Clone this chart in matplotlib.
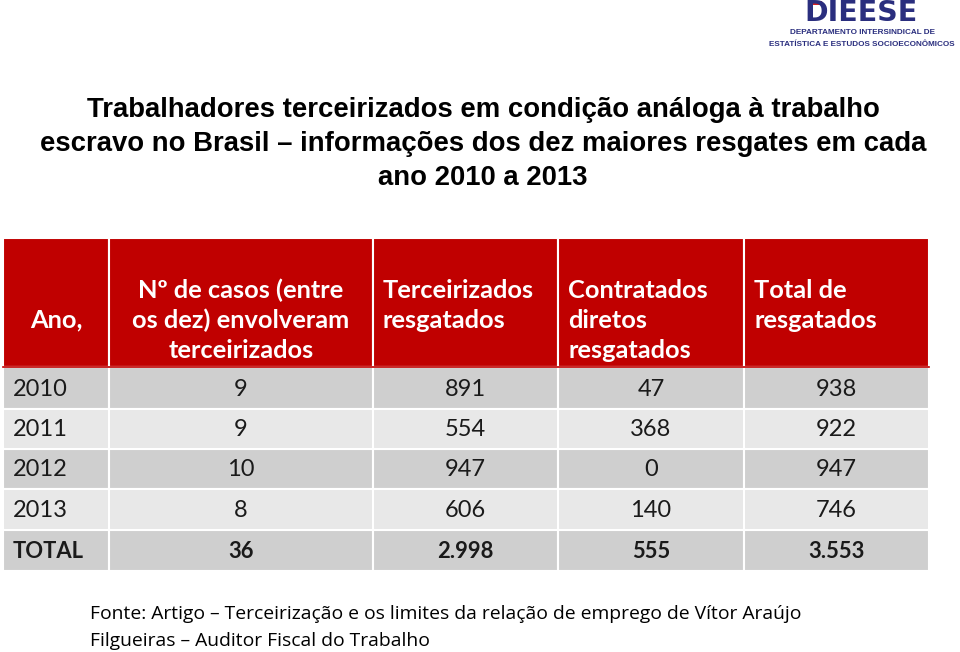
import matplotlib
matplotlib.use("Agg")
import matplotlib.pyplot as plt
from matplotlib.patches import Rectangle

# ---- data ----
title_lines = ["Trabalhadores terceirizados em condição análoga à trabalho",
               "escravo no Brasil – informações dos dez maiores resgates em cada",
               "ano 2010 a 2013"]
headers = ["Ano,",
           "Nº de casos (entre\nos dez) envolveram\nterceirizados",
           "Terceirizados\nresgatados",
           "Contratados\ndiretos\nresgatados",
           "Total de\nresgatados"]
years = ["2010", "2011", "2012", "2013"]
casos = ["9", "9", "10", "8"]
terceirizados = ["891", "554", "947", "606"]
diretos = ["47", "368", "0", "140"]
totais = ["938", "922", "947", "746"]
total_row = ["TOTAL", "36", "2.998", "555", "3.553"]
footer_lines = ["Fonte: Artigo – Terceirização e os limites da relação de emprego de Vítor Araújo",
                "Filgueiras – Auditor Fiscal do Trabalho"]

# ---- layout ----
W, H = 960, 652
fig = plt.figure(figsize=(W / 100, H / 100), dpi=100)
ax = fig.add_axes([0, 0, 1, 1])
ax.set_xlim(0, W)
ax.set_ylim(H, 0)
ax.axis("off")

RED = "#C00000"
DARK = "#CFCFCF"
LIGHT = "#E8E8E8"
TABLE_FONT = "Lato"

col_edges = [3, 109, 373, 558, 744, 929]
header_top, header_bot = 238, 367
row_edges = [367, 409, 449, 489, 530, 571]

# title
for i, line in enumerate(title_lines):
    ax.text(483, 110 + i * 34, line, ha="center", va="center",
            fontsize=19.8, fontweight="bold", family="Liberation Sans", color="black")

# header cells
header_align = ["center", "center", "left", "left", "left"]
for j, h in enumerate(headers):
    x0, x1 = col_edges[j], col_edges[j + 1]
    ax.add_patch(Rectangle((x0, header_top), x1 - x0, header_bot - header_top,
                           facecolor=RED, edgecolor="white", linewidth=1.5))
    if header_align[j] == "center":
        tx, ha = (x0 + x1) / 2, "center"
    else:
        tx, ha = x0 + 10, "left"
    lines = h.split("\n")
    if len(lines) == 1:
        ys = [320]
    else:
        ys = [290 + 30 * k for k in range(len(lines))]
    for line, ty in zip(lines, ys):
        ax.text(tx, ty, line, ha=ha, va="center",
                fontsize=18.3, fontweight="bold", family=TABLE_FONT, color="white")

# body rows
rows = list(zip(years, casos, terceirizados, diretos, totais)) + [tuple(total_row)]
for i, row in enumerate(rows):
    y0, y1 = row_edges[i], row_edges[i + 1]
    fc = DARK if i % 2 == 0 else LIGHT
    bold = (i == len(rows) - 1)
    for j, val in enumerate(row):
        x0, x1 = col_edges[j], col_edges[j + 1]
        ax.add_patch(Rectangle((x0, y0), x1 - x0, y1 - y0,
                               facecolor=fc, edgecolor="white", linewidth=1.5))
        if j == 0:
            tx, ha = x0 + 10, "left"
        else:
            tx, ha = (x0 + x1) / 2, "center"
        ax.text(tx, (y0 + y1) / 2 + 1, val, ha=ha, va="center",
                fontsize=15.8 if bold else 17, fontweight="bold" if bold else "normal",
                family=TABLE_FONT, color="#1a1a1a")

# red line under header
ax.plot([col_edges[0], col_edges[-1]], [header_bot, header_bot], color=RED, lw=1.2)

# footer
for i, line in enumerate(footer_lines):
    ax.text(90, 614 + i * 27, line, ha="left", va="center",
            fontsize=13.9, family="Open Sans", color="black")

# logo
NAVY = "#2A2E7E"
ax.text(861, 13, "DIEESE", ha="center", va="center", fontsize=20.5,
        fontweight="heavy", family="DejaVu Sans", color=NAVY)
ax.add_patch(Rectangle((808, 1), 14, 4, facecolor="#D42020", edgecolor="none"))
ax.text(862, 33, "DEPARTAMENTO INTERSINDICAL DE", ha="center", va="center",
        fontsize=5.9, fontweight="bold", family="Liberation Sans", color=NAVY)
ax.text(862, 44, "ESTATÍSTICA E ESTUDOS SOCIOECONÔMICOS", ha="center", va="center",
        fontsize=5.9, fontweight="bold", family="Liberation Sans", color=NAVY)

fig.savefig("out.png", dpi=100)
